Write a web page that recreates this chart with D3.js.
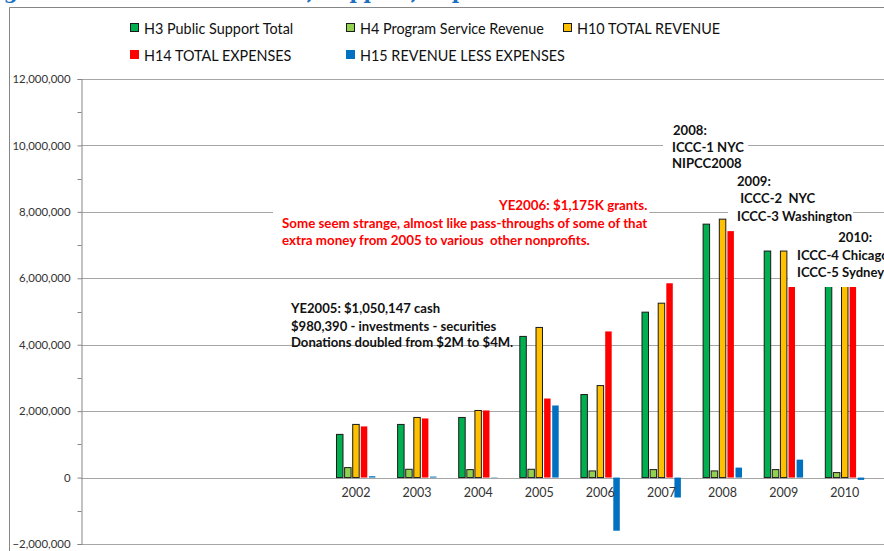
<!DOCTYPE html>
<html><head><meta charset="utf-8">
<script src="https://cdn.jsdelivr.net/npm/d3@7"></script>
<style>html,body{margin:0;padding:0;background:#fff;overflow:hidden}svg{display:block}</style>
</head><body><svg id="c" width="884" height="551" xmlns="http://www.w3.org/2000/svg"></svg>
<script>
// ---- data ----
const categories = ["", "", "", "", "2002", "2003", "2004", "2005", "2006", "2007", "2008", "2009", "2010", ""];
const seriesNames = ["H3 Public Support Total", "H4 Program Service Revenue", "H10 TOTAL REVENUE", "H14 TOTAL EXPENSES", "H15 REVENUE LESS EXPENSES"];
const h3Public  = [null, null, null, null, 1300000, 1600000, 1810000, 4250000, 2500000, 4980000, 7630000, 6820000, 6000000, null];
const h4Program = [null, null, null, null, 300000, 250000, 240000, 250000, 200000, 240000, 200000, 240000, 150000, null];
const h10Revenue = [null, null, null, null, 1600000, 1810000, 2020000, 4520000, 2770000, 5250000, 7780000, 6820000, 6000000, null];
const h14Expenses = [null, null, null, null, 1540000, 1780000, 2020000, 2380000, 4400000, 5850000, 7420000, 5750000, 6000000, null];
const h15Net = [null, null, null, null, 40000, 30000, 10000, 2170000, -1600000, -600000, 300000, 540000, -70000, null];
const seriesColors = ["#00b050", "#92d050", "#ffc000", "#ff0000", "#0070c0"];
const seriesBorder = [true, true, true, false, false];
const yTicks = [-2000000, 0, 2000000, 4000000, 6000000, 8000000, 10000000, 12000000];
const yMinorTicks = [-1000000, 1000000, 3000000, 5000000, 7000000, 9000000, 11000000];
const titleText = "Figure 1: Heartland Revenue, Support, Expenses";
const notes2005 = ["YE2005: $1,050,147 cash", "$980,390 - investments - securities", "Donations doubled from $2M to $4M."];
const notes2006 = ["YE2006: $1,175K grants.", "Some seem strange, almost like pass-throughs of some of that", "extra money from 2005 to various  other nonprofits."];
const notes2008 = ["2008:", "ICCC-1 NYC", "NIPCC2008"];
const notes2009 = ["2009:", " ICCC-2  NYC", "ICCC-3 Washington"];
const notes2010 = ["2010:", "ICCC-4 Chicago", "ICCC-5 Sydney"];

const allSeries = [h3Public, h4Program, h10Revenue, h14Expenses, h15Net];

// ---- drawing ----
const svg = d3.select("#c");
const FONT = "Lato, 'Open Sans', sans-serif";
const plotLeft = 81, bandW = 61.1;
const x = d3.scaleBand().domain(d3.range(categories.length))
  .range([plotLeft, plotLeft + bandW * categories.length]).paddingInner(0).paddingOuter(0);
const xs = d3.scaleBand().domain(d3.range(seriesNames.length))
  .range([-20.25, 20.25]).paddingInner(0.2).paddingOuter(0.1);
const y = d3.scaleLinear().domain([-2000000, 12000000]).range([544, 79]);

// title (cut off at the top in the reference)
svg.append("text").attr("x", -18).attr("y", -1)
  .attr("font-family", "'DejaVu Serif', 'Liberation Serif', serif").attr("font-weight", "bold")
  .attr("font-size", 20).attr("fill", "#1f6fc1").text(titleText);

// outer chart frame
svg.append("line").attr("x1", 9.5).attr("x2", 9.5).attr("y1", 7.5).attr("y2", 551).attr("stroke", "#868686");
svg.append("line").attr("x1", 9.5).attr("x2", 884).attr("y1", 7.5).attr("y2", 7.5).attr("stroke", "#868686");

// gridlines
svg.append("g").selectAll("line").data(yTicks).join("line")
  .attr("x1", plotLeft).attr("x2", 884)
  .attr("y1", d => Math.round(y(d)) + 0.5).attr("y2", d => Math.round(y(d)) + 0.5)
  .attr("stroke", "#a6a6a6").attr("stroke-width", 1);

// bars
const groups = svg.append("g").selectAll("g").data(categories.map((c, i) => i)).join("g")
  .attr("transform", i => `translate(${x(i) + x.bandwidth() / 2},0)`);
groups.selectAll("rect").data(i => allSeries.map((s, k) => ({k, v: s[i]})).filter(d => d.v != null)).join("rect")
  .attr("x", d => xs(d.k))
  .attr("width", xs.bandwidth())
  .attr("y", d => Math.min(y(d.v), y(0)))
  .attr("height", d => Math.abs(y(d.v) - y(0)))
  .attr("fill", d => seriesColors[d.k])
  .attr("stroke", d => seriesBorder[d.k] ? "#1a1a1a" : "none")
  .attr("stroke-width", 1);

// y axis
const yAxis = svg.append("g").attr("transform", `translate(${plotLeft + 0.5},0)`)
  .call(d3.axisLeft(y).tickValues(yTicks).tickSize(4).tickPadding(7).tickFormat(d3.format(",")));
yAxis.select(".domain").attr("stroke", "#868686");
yAxis.selectAll(".tick line").attr("stroke", "#868686");
yAxis.selectAll("text").attr("font-family", FONT).attr("font-size", 11.4).attr("fill", "#333");
yAxis.append("g").selectAll("line").data(yMinorTicks).join("line")
  .attr("x1", -4).attr("x2", 0).attr("y1", d => Math.round(y(d)) + 0.5).attr("y2", d => Math.round(y(d)) + 0.5)
  .attr("stroke", "#868686");

// x axis labels (below zero line)
const xAxis = svg.append("g").attr("transform", `translate(0,${y(0)})`)
  .call(d3.axisBottom(x).tickSize(0).tickPadding(11).tickFormat(i => categories[i]));
xAxis.select(".domain").remove();
xAxis.selectAll("text").attr("font-family", FONT).attr("font-size", 12.5).attr("fill", "#333");

// legend
const legendPos = [[130, 28], [346, 28], [563, 28], [130, 55], [346, 55]];
const leg = svg.append("g").selectAll("g").data(seriesNames).join("g")
  .attr("transform", (d, i) => `translate(${legendPos[i][0]},${legendPos[i][1]})`);
leg.append("rect").attr("x", (d, i) => seriesBorder[i] ? 0.5 : 0).attr("y", (d, i) => seriesBorder[i] ? -4.5 : -5)
  .attr("width", (d, i) => seriesBorder[i] ? 8 : 9).attr("height", (d, i) => seriesBorder[i] ? 8 : 9)
  .attr("fill", (d, i) => seriesColors[i])
  .attr("stroke", (d, i) => seriesBorder[i] ? "#1a1a1a" : "none");
leg.append("text").attr("x", 14).attr("y", 5.5).attr("font-family", FONT).attr("font-size", 14.4)
  .attr("fill", "#111").text(d => d);

// annotations
function annotate(lines, xs_, ys_, opts) {
  const g = svg.append("g");
  const bg = g.append("rect").attr("fill", "#fff");
  g.selectAll("text").data(lines).join("text")
    .attr("x", (d, i) => xs_[i]).attr("y", (d, i) => ys_[i])
    .attr("text-anchor", (d, i) => (opts.anchors ? opts.anchors[i] : "start"))
    .attr("font-family", FONT).attr("font-weight", "bold").attr("font-size", opts.size)
    .attr("fill", opts.color).style("white-space", "pre").text(d => d);
  if (opts.bg) {
    const bb = g.node().getBBox();
    bg.attr("x", bb.x - opts.padL).attr("y", bb.y - 4)
      .attr("width", bb.width + opts.padL + opts.padR).attr("height", bb.height + 4 + opts.padB);
  } else bg.remove();
}
annotate(notes2005, [291, 291, 291], [313, 331, 347], {size: 13.1, color: "#111", bg: false});
annotate(notes2006, [499, 282, 282], [210, 228, 245], {size: 13.35, color: "#ff0000", bg: true, padL: 9, padR: 2, padB: 3});
annotate(notes2008, [673, 672, 672], [135, 152, 168], {size: 13.1, color: "#111", bg: true, padL: 9, padR: 4, padB: 3});
annotate(notes2009, [737, 737, 737], [186, 203, 221], {size: 13.1, color: "#111", bg: true, padL: 9, padR: 1, padB: 0});
annotate(notes2010, [872, 797, 797], [242, 260, 277], {size: 13.1, color: "#111", bg: true, padL: 9, padR: 20, padB: 7, anchors: ["end", "start", "start"]});
</script></body></html>
